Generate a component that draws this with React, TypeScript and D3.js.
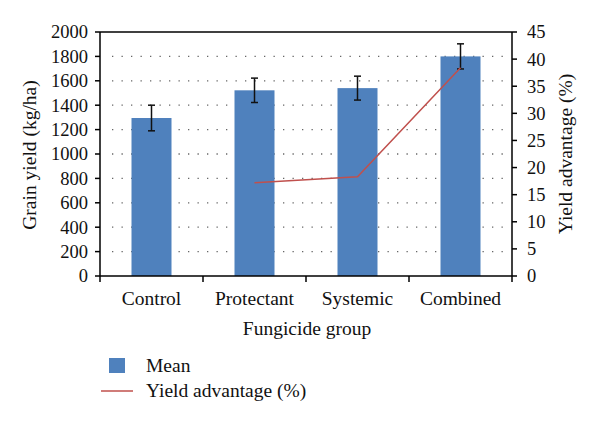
import React from "react";
import * as d3 from "d3";

const categories = ["Control", "Protectant", "Systemic", "Combined"];
const meanYield = [1295, 1522, 1540, 1800];
const yieldError = [105, 100, 98, 103];
const advCategories = ["Protectant", "Systemic", "Combined"];
const yieldAdvantage = [17.2, 18.3, 38.4];
const leftTicks = d3.range(0, 2001, 200);
const rightTicks = d3.range(0, 46, 5);

const W = 600, H = 424;
const L = 100, R = 512, T = 32, B = 276;
const FONT = "'Liberation Serif', 'Times New Roman', serif";
const BAR = "#4F81BD";
const LINE = "#C0504D";

export default function App() {
  const x = d3.scaleBand<string>().domain(categories).range([L, R]).paddingInner(0).paddingOuter(0);
  const y = d3.scaleLinear().domain([0, 2000]).range([B, T]);
  const y2 = d3.scaleLinear().domain([0, 45]).range([B, T]);
  const bw = 40;
  const cx = (c: string) => (x(c) as number) + x.bandwidth() / 2;
  const line = d3
    .line<number>()
    .x((_, i) => cx(advCategories[i]))
    .y((d) => y2(d));

  return (
    <svg width={W} height={H} style={{ position: "absolute", left: 0, top: 0, background: "#fff" }} fontFamily={FONT}>
      <rect width={W} height={H} fill="#fff" />
      {/* gridlines */}
      {leftTicks.filter((t) => t > 0 && t < 2000).map((t) => (
        <line key={t} x1={L + 12} x2={R - 4} y1={y(t)} y2={y(t)} stroke="#666" strokeWidth={1.3} strokeDasharray="1.3 8.2" />
      ))}
      {/* bars */}
      {categories.map((c, i) => (
        <rect key={c} x={cx(c) - bw / 2} y={y(meanYield[i])} width={bw} height={B - y(meanYield[i])} fill={BAR} />
      ))}
      {/* error bars */}
      {categories.map((c, i) => {
        const m = cx(c);
        const hi = y(meanYield[i] + yieldError[i]);
        const lo = y(meanYield[i] - yieldError[i]);
        return (
          <g key={c} stroke="#111" strokeWidth={1.5}>
            <line x1={m} x2={m} y1={hi} y2={lo} />
            <line x1={m - 3.5} x2={m + 3.5} y1={hi} y2={hi} />
            <line x1={m - 3.5} x2={m + 3.5} y1={lo} y2={lo} />
          </g>
        );
      })}
      {/* line */}
      <path d={line(yieldAdvantage) || ""} fill="none" stroke={LINE} strokeWidth={1.5} />
      {/* frame */}
      <g stroke="#000" strokeWidth={1.5} fill="none">
        <line x1={L} x2={R} y1={T} y2={T} />
        <line x1={L} x2={L} y1={T} y2={B} />
        <line x1={R} x2={R} y1={T} y2={B} />
        <line x1={L} x2={R} y1={B} y2={B} />
      </g>
      {/* left ticks */}
      {leftTicks.map((t) => (
        <g key={t}>
          <line x1={L - 5} x2={L} y1={y(t)} y2={y(t)} stroke="#000" strokeWidth={1.5} />
          <text x={88} y={y(t)} dy="0.35em" textAnchor="end" fontSize={18.5} fill="#111">{t}</text>
        </g>
      ))}
      {/* right ticks */}
      {rightTicks.map((t) => (
        <g key={t}>
          <line x1={R} x2={R + 5} y1={y2(t)} y2={y2(t)} stroke="#000" strokeWidth={1.5} />
          <text x={527} y={y2(t)} dy="0.35em" textAnchor="start" fontSize={18.5} fill="#111">{t}</text>
        </g>
      ))}
      {/* bottom ticks */}
      {[...categories.map((c) => x(c) as number), R].map((v, i) => (
        <line key={i} x1={v} x2={v} y1={B} y2={B + 6} stroke="#000" strokeWidth={1.5} />
      ))}
      {categories.map((c) => (
        <text key={c} x={cx(c)} y={305} textAnchor="middle" fontSize={19.5} fill="#111">{c}</text>
      ))}
      <text x={307} y={335} textAnchor="middle" fontSize={19.5} fill="#111">Fungicide group</text>
      <text transform={`translate(36,155) rotate(-90)`} textAnchor="middle" fontSize={19.5} fill="#111">Grain yield (kg/ha)</text>
      <text transform={`translate(572,154) rotate(-90)`} textAnchor="middle" fontSize={19.5} fill="#111">Yield advantage (%)</text>
      {/* legend */}
      <rect x={109} y={358} width={16} height={15} fill={BAR} />
      <text x={146} y={372} fontSize={19.5} fill="#111">Mean</text>
      <line x1={101} x2={133} y1={391} y2={391} stroke={LINE} strokeWidth={1.5} />
      <text x={146} y={397} fontSize={19.5} fill="#111">Yield advantage (%)</text>
    </svg>
  );
}
